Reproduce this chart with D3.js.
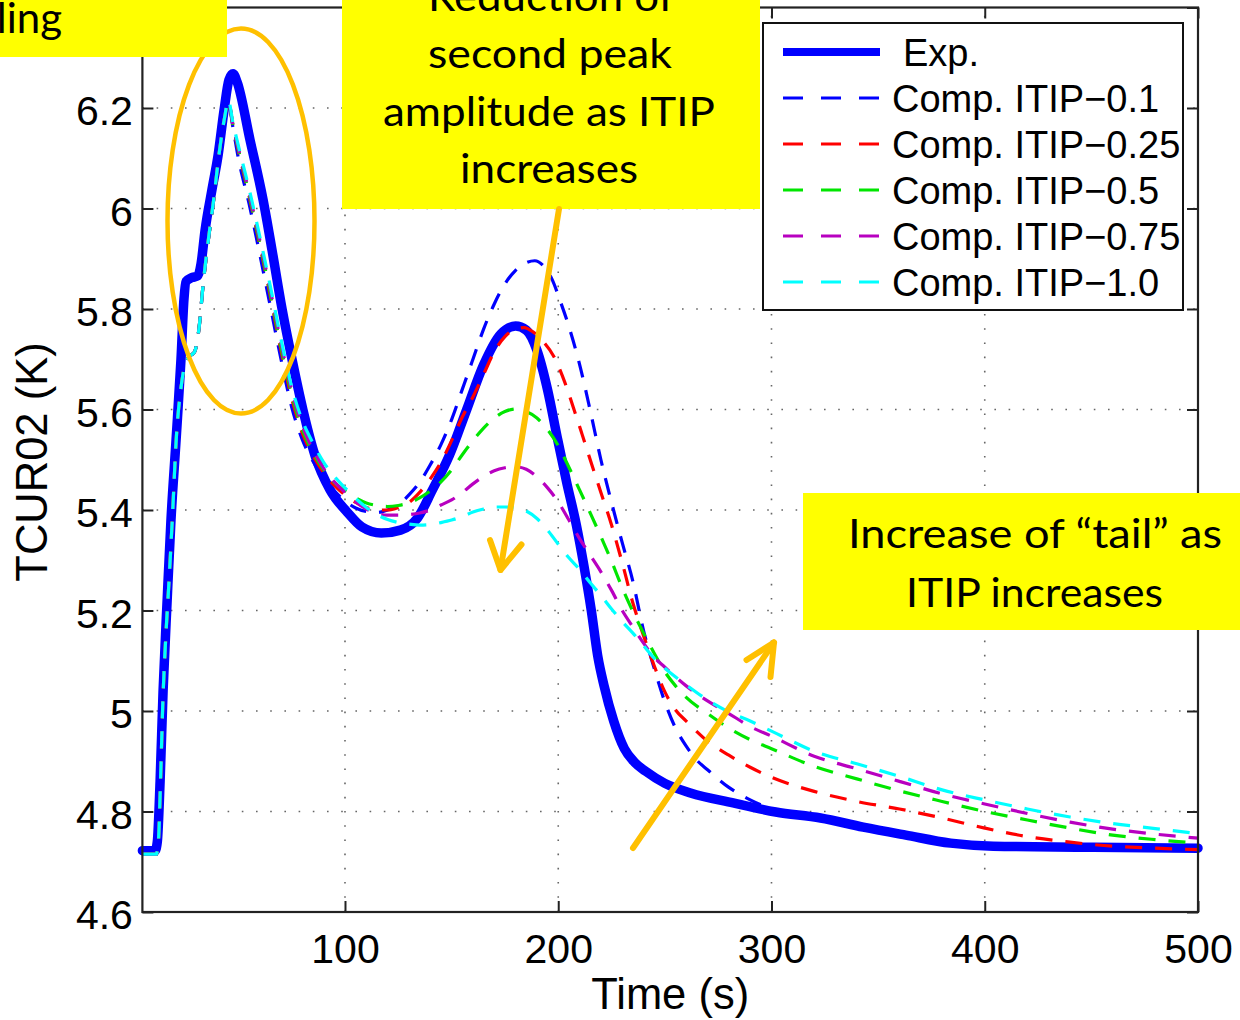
<!DOCTYPE html>
<html>
<head>
<meta charset="utf-8">
<script src="https://cdn.jsdelivr.net/npm/d3@7"></script>
<style>
  html, body { margin: 0; padding: 0; background: #fff; }
  svg { display: block; }
</style>
</head>
<body>
<svg id="chart" width="1240" height="1020"></svg>
<script>
// ---- data: time (s) vs TCUR02 temperature (K) ----
const xTicks = [100, 200, 300, 400, 500];
const yTicks = [4.6, 4.8, 5.0, 5.2, 5.4, 5.6, 5.8, 6.0, 6.2, 6.4];
const seriesNames = ["Exp.", "Comp. ITIP\u22120.1", "Comp. ITIP\u22120.25", "Comp. ITIP\u22120.5", "Comp. ITIP\u22120.75", "Comp. ITIP\u22121.0"];

const expData = [
  [5,4.722],[11,4.722],[12,4.74],[13.3,4.86],[14.7,5.04],[16.6,5.22],[18.4,5.38],[20.8,5.54],[23.1,5.70],
  [24.5,5.82],[25.5,5.855],[28,5.862],[31,5.866],[32.5,5.89],[34.4,5.957],[37.6,6.037],[40.5,6.106],
  [43.3,6.196],[45.6,6.256],[47.5,6.268],[49.4,6.252],[55.5,6.136],[61.6,6.017],[65.8,5.917],[70.5,5.80],
  [75.2,5.699],[80.3,5.599],[85.9,5.509],[93,5.44],[101,5.396],[108,5.366],[117,5.354],[126,5.36],
  [134,5.384],[141,5.44],[149,5.509],[157,5.599],[165,5.689],[173,5.75],[180,5.766],[185,5.758],
  [190,5.718],[195,5.639],[199.5,5.545],[204,5.454],[208.5,5.37],[212,5.29],[215.5,5.2],[218.5,5.11],
  [221.5,5.05],[226,4.98],[231,4.925],[236,4.897],[241,4.88],[250,4.856],[262,4.837],[282,4.817],
  [302,4.799],[323,4.787],[343,4.769],[363,4.753],[384,4.737],[404,4.731],[445,4.729],[500,4.727]
];

const itip01 = [
  [5,4.715],[11.5,4.715],[12.5,4.74],[13.5,4.86],[14.6,5.02],[16,5.15],[17.5,5.26],[19,5.38],[21,5.55],
  [23,5.64],[25,5.69],[27,5.705],[29.5,5.715],[31.5,5.76],[33.5,5.85],[36,5.94],[38.5,6.02],[41,6.11],
  [43.5,6.18],[45.3,6.21],[47.5,6.16],[50,6.10],[55,6.01],[60,5.91],[65,5.805],[70,5.70],[75,5.605],
  [80,5.54],[85,5.497],[90,5.463],[95,5.438],[100,5.418],[105,5.404],[110,5.397],[115,5.395],[120,5.40],
  [125,5.41],[130,5.43],[135,5.455],[140,5.49],[145,5.53],[150,5.58],[155,5.64],[160,5.70],[165,5.76],
  [170,5.81],[175,5.85],[180,5.877],[185,5.892],[189,5.896],[193,5.886],[197,5.86],[201,5.815],
  [205,5.765],[210,5.69],[215,5.598],[220,5.50],[225,5.415],[230,5.335],[235,5.258],[240,5.16],
  [245,5.085],[250,5.018],[255,4.966],[260,4.93],[265,4.902],[270,4.883],[280,4.848],[290,4.823],
  [300,4.805],[320,4.79],[340,4.772],[360,4.756],[380,4.741],[400,4.733],[440,4.728],[500,4.724]
];

const itip025 = [
  [5,4.715],[11.5,4.715],[12.5,4.74],[13.5,4.86],[14.6,5.02],[16,5.15],[17.5,5.26],[19,5.38],[21,5.55],
  [23,5.64],[25,5.69],[27,5.705],[29.5,5.715],[31.5,5.76],[33.5,5.85],[36,5.94],[38.5,6.02],[41,6.11],
  [43.5,6.18],[45.3,6.212],[47.5,6.165],[50,6.115],[55,6.025],[60,5.928],[65,5.825],[70,5.717],
  [75,5.622],[80,5.553],[85,5.508],[90,5.474],[95,5.449],[100,5.43],[105,5.415],[110,5.405],[115,5.40],
  [120,5.40],[125,5.405],[130,5.415],[135,5.435],[140,5.462],[145,5.495],[150,5.538],[155,5.585],
  [160,5.625],[165,5.67],[170,5.715],[175,5.745],[180,5.76],[184,5.763],[188,5.755],[193,5.735],
  [198,5.705],[203,5.655],[207,5.605],[211,5.553],[215,5.5],[220,5.435],[225,5.37],[230,5.295],
  [235,5.215],[240,5.15],[245,5.09],[250,5.038],[255,5.002],[260,4.98],[270,4.94],[280,4.912],
  [290,4.888],[300,4.868],[320,4.84],[340,4.82],[360,4.805],[380,4.787],[400,4.767],[420,4.75],
  [440,4.739],[460,4.731],[480,4.727],[500,4.724]
];

const itip05 = [
  [5,4.715],[11.5,4.715],[12.5,4.74],[13.5,4.86],[14.6,5.02],[16,5.15],[17.5,5.26],[19,5.38],[21,5.55],
  [23,5.64],[25,5.69],[27,5.705],[29.5,5.715],[31.5,5.76],[33.5,5.85],[36,5.94],[38.5,6.02],[41,6.11],
  [43.5,6.18],[45.3,6.212],[47.5,6.165],[50,6.118],[55,6.028],[60,5.932],[65,5.83],[70,5.724],
  [75,5.63],[80,5.56],[85,5.514],[90,5.48],[95,5.455],[100,5.438],[105,5.424],[110,5.414],[115,5.409],
  [120,5.407],[125,5.409],[130,5.414],[135,5.424],[140,5.438],[145,5.456],[150,5.48],[155,5.51],
  [160,5.538],[165,5.563],[170,5.583],[175,5.596],[180,5.601],[185,5.596],[190,5.583],[195,5.56],
  [200,5.528],[205,5.485],[210,5.44],[215,5.394],[220,5.347],[225,5.298],[230,5.245],[235,5.198],
  [240,5.155],[245,5.115],[250,5.078],[255,5.05],[260,5.027],[270,4.995],[280,4.966],[290,4.943],
  [300,4.925],[320,4.89],[340,4.865],[360,4.841],[380,4.82],[400,4.80],[420,4.783],[440,4.767],
  [460,4.753],[480,4.744],[500,4.737]
];

const itip075 = [
  [5,4.715],[11.5,4.715],[12.5,4.74],[13.5,4.86],[14.6,5.02],[16,5.15],[17.5,5.26],[19,5.38],[21,5.55],
  [23,5.64],[25,5.69],[27,5.705],[29.5,5.715],[31.5,5.76],[33.5,5.85],[36,5.94],[38.5,6.02],[41,6.11],
  [43.5,6.18],[45.3,6.213],[47.5,6.165],[50,6.12],[55,6.033],[60,5.938],[65,5.838],[70,5.733],
  [75,5.638],[80,5.568],[85,5.52],[90,5.483],[95,5.456],[100,5.435],[105,5.416],[110,5.402],
  [115,5.393],[120,5.39],[125,5.39],[130,5.391],[135,5.394],[140,5.40],[145,5.41],[150,5.42],
  [155,5.435],[160,5.452],[165,5.467],[170,5.478],[175,5.484],[180,5.486],[185,5.481],[190,5.466],
  [195,5.444],[200,5.416],[205,5.38],[210,5.343],[215,5.31],[220,5.277],[225,5.24],[230,5.2],
  [235,5.167],[240,5.135],[245,5.107],[250,5.087],[260,5.05],[270,5.02],[280,4.995],[290,4.969],
  [300,4.95],[320,4.91],[340,4.885],[360,4.86],[380,4.835],[400,4.815],[420,4.796],[440,4.779],
  [460,4.765],[480,4.755],[500,4.747]
];

const itip10 = [
  [5,4.715],[11.5,4.715],[12.5,4.74],[13.5,4.86],[14.6,5.02],[16,5.15],[17.5,5.26],[19,5.38],[21,5.55],
  [23,5.64],[25,5.69],[27,5.705],[29.5,5.715],[31.5,5.76],[33.5,5.85],[36,5.94],[38.5,6.02],[41,6.11],
  [43.5,6.18],[45.3,6.215],[47.5,6.17],[50,6.125],[55,6.04],[60,5.945],[65,5.845],[70,5.74],
  [75,5.645],[80,5.578],[85,5.533],[90,5.495],[95,5.467],[100,5.444],[105,5.423],[110,5.405],
  [115,5.391],[120,5.381],[125,5.375],[130,5.372],[135,5.37],[140,5.371],[145,5.375],[150,5.38],
  [155,5.387],[160,5.396],[165,5.402],[170,5.406],[175,5.406],[180,5.404],[185,5.398],[190,5.383],
  [195,5.36],[200,5.332],[205,5.305],[210,5.282],[215,5.255],[220,5.23],[225,5.203],[230,5.178],
  [235,5.155],[240,5.13],[245,5.105],[250,5.085],[260,5.052],[270,5.022],[280,4.998],[290,4.98],
  [300,4.96],[320,4.92],[340,4.895],[360,4.87],[380,4.843],[400,4.823],[420,4.805],[440,4.789],
  [460,4.776],[480,4.766],[500,4.756]
];

// ---- styling ----
const series = [
  { name: seriesNames[0], data: expData, color: "#0000ff", width: 9.5, dash: null },
  { name: seriesNames[1], data: itip01,  color: "#0000ff", width: 3.2, dash: "17,13" },
  { name: seriesNames[2], data: itip025, color: "#ff0000", width: 3.2, dash: "17,13" },
  { name: seriesNames[3], data: itip05,  color: "#00e600", width: 3.2, dash: "17,13" },
  { name: seriesNames[4], data: itip075, color: "#b800c0", width: 3.2, dash: "17,13" },
  { name: seriesNames[5], data: itip10,  color: "#00ffff", width: 3.2, dash: "17,13" }
];

const axisFont = "'Liberation Sans', Arial, Helvetica, sans-serif";
const noteFont = "Lato, 'Open Sans', sans-serif";
const orange = "#ffc000";
const yellow = "#ffff00";

const svg = d3.select("#chart");
const x = d3.scaleLinear().domain([5, 500]).range([142.4, 1198]);
const y = d3.scaleLinear().domain([4.6, 6.4]).range([912, 7.5]);

// dotted grid
const grid = svg.append("g").attr("stroke", "#666").attr("stroke-width", 1.6)
  .attr("stroke-dasharray", "1.6,12.6");
grid.selectAll("line.gx").data(xTicks.filter(t => t < 500)).join("line")
  .attr("class", "gx")
  .attr("x1", d => x(d)).attr("x2", d => x(d))
  .attr("y1", y(4.6)).attr("y2", y(6.4));
grid.selectAll("line.gy").data(yTicks.filter(t => t > 4.6 && t < 6.4)).join("line")
  .attr("class", "gy")
  .attr("x1", x(5)).attr("x2", x(500))
  .attr("y1", d => y(d)).attr("y2", d => y(d));

// curves
const line = d3.line().x(d => x(d[0])).y(d => y(d[1])).curve(d3.curveMonotoneX);
const plot = svg.append("g");
series.forEach(s => {
  plot.append("path")
    .datum(s.data)
    .attr("d", line)
    .attr("fill", "none")
    .attr("stroke", s.color)
    .attr("stroke-width", s.width)
    .attr("stroke-linejoin", "round")
    .attr("stroke-linecap", s.dash ? "butt" : "round")
    .attr("stroke-dasharray", s.dash);
});

// axes with inward ticks on all four sides
const fmt = d => (d === 6.4 ? "" : d3.format("")(+d.toFixed(1)));
const gBottom = svg.append("g").attr("transform", `translate(0,${y(4.6)})`)
  .call(d3.axisBottom(x).tickValues(xTicks).tickSize(-11).tickSizeOuter(0).tickPadding(22));
const gLeft = svg.append("g").attr("transform", `translate(${x(5)},0)`)
  .call(d3.axisLeft(y).tickValues(yTicks).tickSize(-11).tickSizeOuter(0).tickPadding(9.5).tickFormat(fmt));
const gTop = svg.append("g").attr("transform", `translate(0,${y(6.4)})`)
  .call(d3.axisTop(x).tickValues(xTicks).tickSize(-11).tickSizeOuter(0).tickFormat(""));
const gRight = svg.append("g").attr("transform", `translate(${x(500)},0)`)
  .call(d3.axisRight(y).tickValues(yTicks).tickSize(-11).tickSizeOuter(0).tickFormat(""));

[gBottom, gLeft, gTop, gRight].forEach(g => {
  g.select(".domain").remove();
  g.selectAll(".tick line").attr("stroke", "#222").attr("stroke-width", 2);
  g.selectAll(".tick text").attr("font-family", axisFont).attr("font-size", 41).attr("fill", "#000");
});
gLeft.selectAll(".tick text").attr("dy", "0.41em");

// frame
svg.append("rect")
  .attr("x", x(5)).attr("y", y(6.4))
  .attr("width", x(500) - x(5)).attr("height", y(4.6) - y(6.4))
  .attr("fill", "none").attr("stroke", "#222").attr("stroke-width", 2.2);

// axis titles
svg.append("text")
  .attr("transform", "translate(47,462) rotate(-90)")
  .attr("text-anchor", "middle")
  .attr("font-family", axisFont).attr("font-size", 43.5)
  .text("TCUR02 (K)");
svg.append("text")
  .attr("x", (x(5) + x(500)) / 2).attr("y", 1009)
  .attr("text-anchor", "middle")
  .attr("font-family", axisFont).attr("font-size", 43.5)
  .text("Time (s)");

// legend
const legend = svg.append("g");
legend.append("rect")
  .attr("x", 763).attr("y", 23).attr("width", 420).attr("height", 287)
  .attr("fill", "#fff").attr("stroke", "#111").attr("stroke-width", 2);
series.forEach((s, i) => {
  const cy = 52 + i * 46;
  legend.append("line")
    .attr("x1", 783).attr("x2", 880).attr("y1", cy).attr("y2", cy)
    .attr("stroke", s.color)
    .attr("stroke-width", s.dash ? 3.2 : 8)
    .attr("stroke-dasharray", s.dash ? "20,18" : null);
  legend.append("text")
    .attr("x", i === 0 ? 903 : 892).attr("y", cy).attr("dy", "0.36em")
    .attr("font-family", axisFont).attr("font-size", 38)
    .text(s.name);
});

// annotations
const notes = svg.append("g");
notes.append("ellipse")
  .attr("cx", 241).attr("cy", 221).attr("rx", 73.5).attr("ry", 192.5)
  .attr("fill", "none").attr("stroke", orange).attr("stroke-width", 4.5);

function noteBox(x0, y0, w, h, lines) {
  notes.append("rect").attr("x", x0).attr("y", y0).attr("width", w).attr("height", h).attr("fill", yellow);
  lines.forEach(l => {
    const t = notes.append("text")
      .attr("x", l.x).attr("y", l.y)
      .attr("text-anchor", l.anchor || "middle")
      .attr("font-family", noteFont).attr("font-size", l.size || 40)
      .attr("fill", "#000")
      .text(l.text);
    if (l.len) t.attr("textLength", l.len).attr("lengthAdjust", "spacingAndGlyphs");
  });
}

noteBox(0, 0, 227, 57, [{ text: "ling", x: 62, y: 33, anchor: "end", size: 42 }]);
noteBox(342, 0, 418, 209, [
  { text: "Reduction of", x: 551, y: 11, len: 246 },
  { text: "second peak", x: 550, y: 68, len: 244 },
  { text: "amplitude as ITIP", x: 549, y: 126, len: 332 },
  { text: "increases", x: 549, y: 183, len: 178 }
]);
noteBox(803, 493, 437, 137, [
  { text: "Increase of \u201Ctail\u201D as", x: 1035, y: 548, len: 374 },
  { text: "ITIP increases", x: 1034.5, y: 607, len: 257 }
]);

function arrow(p0, p1, armA, armB) {
  notes.append("line")
    .attr("x1", p0[0]).attr("y1", p0[1]).attr("x2", p1[0]).attr("y2", p1[1])
    .attr("stroke", orange).attr("stroke-width", 6).attr("stroke-linecap", "round");
  notes.append("polyline")
    .attr("points", [armA, p1, armB].map(p => p.join(",")).join(" "))
    .attr("fill", "none").attr("stroke", orange).attr("stroke-width", 6)
    .attr("stroke-linecap", "round").attr("stroke-linejoin", "round");
}
arrow([559, 209], [500.5, 570], [490, 540], [521.5, 544.5]);
arrow([633, 848], [774, 642.5], [746.5, 660], [770.5, 677]);
</script>
</body>
</html>
